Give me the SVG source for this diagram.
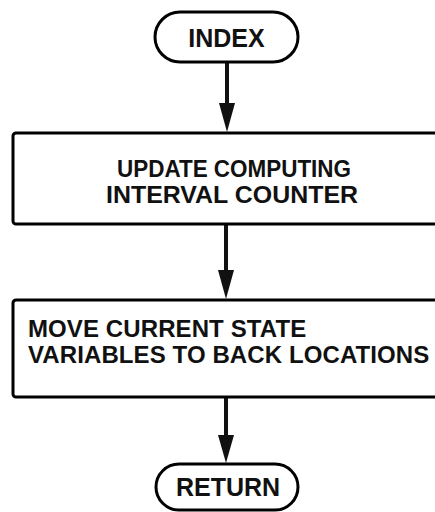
<svg xmlns="http://www.w3.org/2000/svg" width="435" height="512" viewBox="0 0 435 512">
<style>
.shape{fill:#fff;stroke:#000;stroke-width:3}
.t{font-family:"Liberation Sans",Arial,sans-serif;font-weight:bold;font-size:24px;fill:#111}
.shaft{stroke:#111;stroke-width:4;fill:none}
.head{fill:#111}
</style>
<rect width="435" height="512" fill="#fff"/>
<g id="connectors">
<line class="shaft" x1="227" y1="62" x2="227" y2="103"/>
<path class="head" d="M219,103 L235,103 L227,132 Z"/>
<line class="shaft" x1="226" y1="224" x2="226" y2="270"/>
<path class="head" d="M218,270 L234,270 L226,299 Z"/>
<line class="shaft" x1="226" y1="397" x2="226" y2="435"/>
<path class="head" d="M218,435 L234,435 L226,463 Z"/>
</g>
<g id="index">
<rect class="shape" x="155" y="12" width="143" height="50" rx="25"/>
<text class="t" x="226.5" y="47" text-anchor="middle" style="font-size:25px">INDEX</text>
</g>
<g id="update">
<rect class="shape" x="13" y="133" width="440" height="91" rx="3"/>
<text class="t" x="117" y="177" textLength="234" lengthAdjust="spacingAndGlyphs">UPDATE COMPUTING</text>
<text class="t" x="106" y="203" textLength="252" lengthAdjust="spacingAndGlyphs">INTERVAL COUNTER</text>
</g>
<g id="move">
<rect class="shape" x="13" y="300" width="440" height="97" rx="3"/>
<text class="t" x="28" y="337" letter-spacing="0.1">MOVE CURRENT STATE</text>
<text class="t" x="28" y="363" letter-spacing="0.1">VARIABLES TO BACK LOCATIONS</text>
</g>
<g id="return">
<rect class="shape" x="156" y="464" width="142" height="46" rx="23"/>
<text class="t" x="228" y="496" text-anchor="middle" style="font-size:25px">RETURN</text>
</g>
</svg>
